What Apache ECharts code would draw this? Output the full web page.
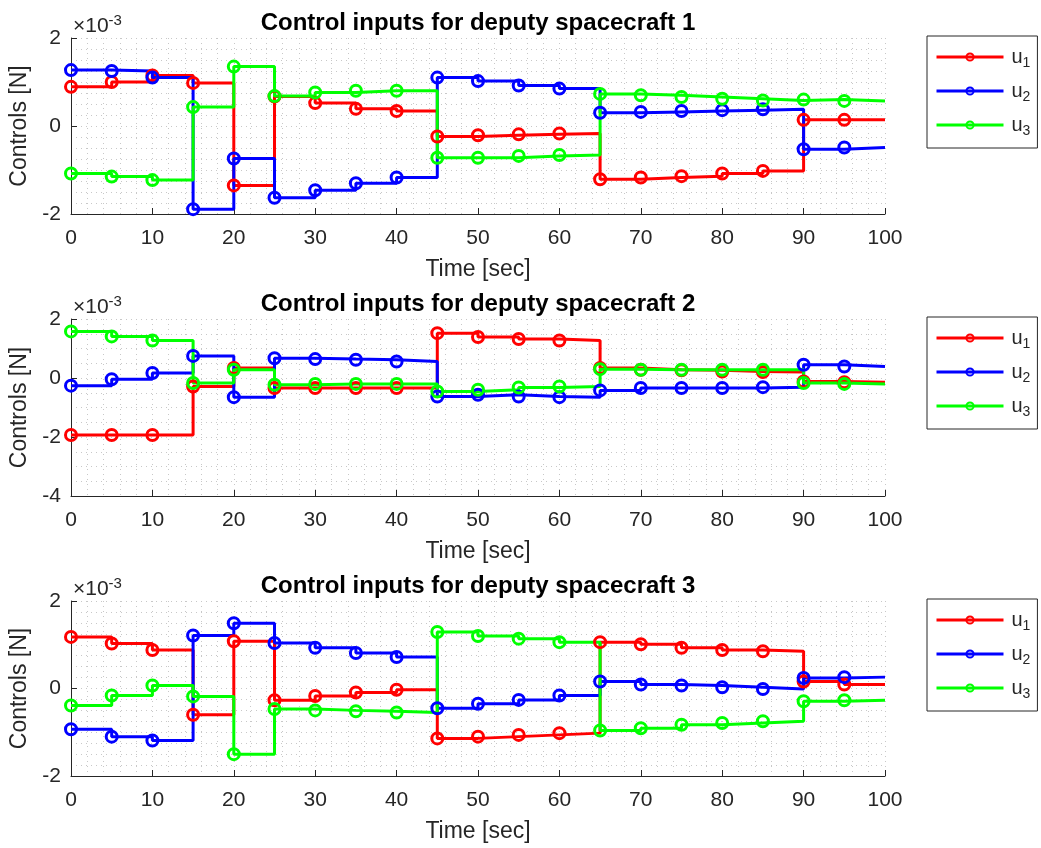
<!DOCTYPE html>
<html>
<head>
<meta charset="utf-8">
<script src="https://cdn.jsdelivr.net/npm/echarts@6/dist/echarts.min.js"></script>
<style>
  html, body { margin: 0; padding: 0; background: #fff; }
  #chart { width: 1041px; height: 848px; }
</style>
</head>
<body>
<div id="chart"></div>
<script>
// sample times (s); stairs are held until the next sample, last one until tEnd
const times = [0, 5, 10, 15, 20, 25, 30, 35, 40, 45, 50, 55, 60, 65, 70, 75, 80, 85, 90, 95];
const tEnd = 100;

// controls in units of 1e-3 N
const sc1U1 = [0.89, 1.0, 1.15, 0.98, -1.35, 0.67, 0.52, 0.39, 0.34, -0.24, -0.21, -0.19, -0.17, -1.21, -1.17, -1.14, -1.08, -1.02, 0.14, 0.14];
const sc1U2 = [1.27, 1.25, 1.1, -1.89, -0.74, -1.63, -1.46, -1.3, -1.17, 1.1, 1.02, 0.92, 0.85, 0.3, 0.32, 0.34, 0.36, 0.38, -0.53, -0.49];
const sc1U3 = [-1.08, -1.15, -1.23, 0.43, 1.35, 0.68, 0.76, 0.8, 0.8, -0.72, -0.72, -0.68, -0.66, 0.73, 0.7, 0.66, 0.62, 0.58, 0.6, 0.57];

const sc2U1 = [-1.93, -1.93, -1.93, -0.29, 0.34, -0.34, -0.34, -0.34, -0.34, 1.52, 1.39, 1.32, 1.27, 0.34, 0.28, 0.26, 0.22, 0.2, -0.12, -0.14];
const sc2U2 = [-0.26, -0.04, 0.17, 0.75, -0.65, 0.67, 0.64, 0.62, 0.56, -0.63, -0.57, -0.63, -0.65, -0.42, -0.34, -0.34, -0.34, -0.31, 0.45, 0.39];
const sc2U3 = [1.58, 1.41, 1.27, -0.17, 0.28, -0.23, -0.2, -0.2, -0.2, -0.46, -0.4, -0.32, -0.29, 0.3, 0.28, 0.28, 0.28, 0.28, -0.17, -0.2];

const sc3U1 = [1.18, 1.03, 0.88, -0.6, 1.08, -0.27, -0.17, -0.09, -0.03, -1.14, -1.1, -1.06, -1.02, 1.06, 1.01, 0.93, 0.88, 0.85, 0.16, 0.09];
const sc3U2 = [-0.93, -1.1, -1.19, 1.21, 1.49, 1.04, 0.93, 0.81, 0.72, -0.45, -0.35, -0.26, -0.16, 0.16, 0.09, 0.07, 0.03, -0.01, 0.24, 0.26];
const sc3U3 = [-0.39, -0.16, 0.07, -0.18, -1.5, -0.47, -0.5, -0.52, -0.55, 1.29, 1.2, 1.14, 1.06, -0.96, -0.91, -0.83, -0.79, -0.75, -0.29, -0.27];

const titles = ['Control inputs for deputy spacecraft 1', 'Control inputs for deputy spacecraft 2', 'Control inputs for deputy spacecraft 3'];
const names = ['u1', 'u2', 'u3'];
const colors = ['#ff0000', '#0000ff', '#00ff00'];
const yRanges = [[-2, 2], [-4, 2], [-2, 2]];
const yMinorSplits = [8, 4, 8];

const panels = [[sc1U1, sc1U2, sc1U3], [sc2U1, sc2U2, sc2U3], [sc3U1, sc3U2, sc3U3]];

const FONT = 'Liberation Sans, Arial, Helvetica, sans-serif';
const AXIS = '#262626';
const GRIDC = '#c8c8c8';
const tops = [38, 319, 601];
const heights = [176, 177, 175];
const legendTops = [36, 317, 599];

function stairsData(vals) {
  const d = times.map((t, i) => [t, vals[i]]);
  d.push({ value: [tEnd, vals[vals.length - 1]], symbol: 'none' });
  return d;
}

const grid = tops.map((t, i) => ({ left: 71, right: 156, top: t, height: heights[i] }));

const dotted = { color: GRIDC, type: [1, 4], width: 1 };

const xAxis = tops.map((t, i) => ({
  type: 'value', gridIndex: i, min: 0, max: 100, interval: 10,
  name: 'Time [sec]', nameLocation: 'middle', nameGap: 44,
  nameTextStyle: { fontFamily: FONT, fontSize: 23, color: AXIS },
  axisLine: { onZero: false, lineStyle: { color: AXIS, width: 1 } },
  axisTick: { inside: true, length: 6, lineStyle: { color: AXIS } },
  axisLabel: { fontFamily: FONT, fontSize: 21, color: AXIS, margin: 14 },
  splitLine: { show: true, lineStyle: dotted },
  minorTick: { show: false, splitNumber: 5 },
  minorSplitLine: { show: true, lineStyle: dotted }
}));

const yAxis = yRanges.map((r, i) => ({
  type: 'value', gridIndex: i, min: r[0], max: r[1], interval: 2,
  name: 'Controls [N]', nameLocation: 'middle', nameGap: 38, nameRotate: 90,
  nameTextStyle: { fontFamily: FONT, fontSize: 23, color: AXIS },
  axisLine: { show: true, onZero: false, lineStyle: { color: AXIS, width: 1 } },
  axisTick: { show: true, inside: true, length: 6, lineStyle: { color: AXIS } },
  axisLabel: { fontFamily: FONT, fontSize: 21, color: AXIS, margin: 10 },
  splitLine: { show: true, lineStyle: dotted },
  minorTick: { show: false, splitNumber: yMinorSplits[i] },
  minorSplitLine: { show: true, lineStyle: dotted }
}));

const series = [];
panels.forEach((vals, p) => {
  vals.forEach((v, k) => {
    series.push({
      name: names[k], type: 'line', step: 'end',
      xAxisIndex: p, yAxisIndex: p,
      data: stairsData(v),
      symbol: 'circle', symbolSize: 11, showAllSymbol: true,
      color: colors[k],
      lineStyle: { color: colors[k], width: 3 },
      itemStyle: { color: 'rgba(0,0,0,0)', borderColor: colors[k], borderWidth: 3 },
      animation: false
    });
  });
});

const legend = legendTops.map(t => ({
  orient: 'vertical', left: 927, top: t,
  data: names,
  padding: [11, 7, 10, 8],
  borderColor: AXIS, borderWidth: 1,
  itemWidth: 67, itemHeight: 9, itemGap: 11,
  selectedMode: false,
  lineStyle: { width: 3 },
  formatter: n => '{m|u}{s|' + n.slice(1) + '}',
  textStyle: {
    color: AXIS, fontFamily: FONT,
    rich: {
      m: { fontSize: 20, fontFamily: FONT, color: AXIS, padding: [0, 0, 0, 3] },
      s: { fontSize: 14, fontFamily: FONT, color: AXIS, padding: [12, 0, 0, 0] }
    }
  }
}));

const title = tops.map((t, i) => ({
  text: titles[i], left: 478, top: t - 27, textAlign: 'center', padding: 0,
  textStyle: { fontFamily: FONT, fontSize: 24, fontWeight: 'bold', color: '#000' }
}));

const graphic = tops.map(t => ({
  type: 'text', left: 73, top: t - 25,
  style: {
    text: '{a|×10}{b|-3}',
    rich: {
      a: { fontSize: 21, fontFamily: FONT, fill: AXIS },
      b: { fontSize: 15, fontFamily: FONT, fill: AXIS, padding: [0, 0, 12, 0] }
    }
  }
}));

const chart = echarts.init(document.getElementById('chart'), null, { renderer: 'canvas' });
chart.setOption({
  backgroundColor: '#fff',
  animation: false,
  title, legend, grid, xAxis, yAxis, series, graphic
});
</script>
</body>
</html>
